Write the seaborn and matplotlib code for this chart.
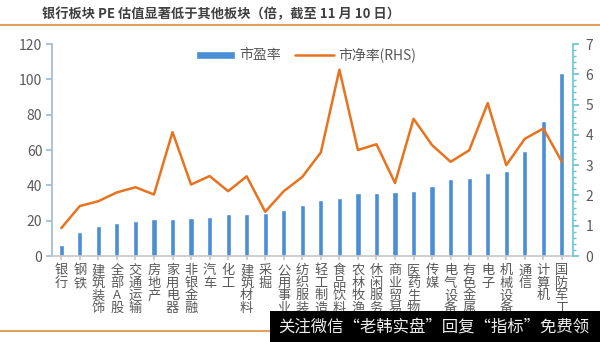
import numpy as np
import pandas as pd
import matplotlib
matplotlib.use("Agg")
import matplotlib.pyplot as plt
import seaborn as sns
from matplotlib.ticker import MultipleLocator
from matplotlib.lines import Line2D
from matplotlib.patches import Patch, Rectangle

sectors = ["银行", "钢铁", "建筑装饰", "全部A股", "交通运输", "房地产", "家用电器", "非银金融",
           "汽车", "化工", "建筑材料", "采掘", "公用事业", "纺织服装", "轻工制造", "食品饮料",
           "农林牧渔", "休闲服务", "商业贸易", "医药生物", "传媒", "电气设备", "有色金属",
           "电子", "机械设备", "通信", "计算机", "国防军工"]
pe = [6.2, 13.8, 17.0, 18.7, 19.6, 20.7, 21.0, 21.7, 21.9, 23.6, 24.0, 24.5, 25.8, 28.9,
      31.7, 32.6, 35.5, 35.7, 36.2, 37.0, 39.4, 43.6, 44.0, 47.2, 48.3, 59.6, 76.2, 103.7]
pb = [0.92, 1.65, 1.81, 2.10, 2.27, 2.03, 4.09, 2.36, 2.64, 2.14, 2.63, 1.46, 2.14, 2.61,
      3.42, 6.15, 3.50, 3.69, 2.41, 4.53, 3.66, 3.11, 3.49, 5.05, 3.00, 3.87, 4.21, 3.11]
title = "银行板块 PE 估值显著低于其他板块（倍，截至 11 月 10 日）"
watermark = "关注微信“老韩实盘”回复“指标”免费领"

sns.set_theme(style="white")
plt.rcParams['font.family'] = ['Noto Sans CJK SC', 'DejaVu Sans']

df = pd.DataFrame({"sector": sectors, "pe": pe, "pb": pb, "pos": np.arange(len(sectors))})

W, H = 600, 342
fig = plt.figure(figsize=(W / 100, H / 100), dpi=100)
ax = fig.add_axes([52 / W, 1 - 256 / H, (573 - 52) / W, (256 - 44) / H])

bar_c = "#4A8FD6"
line_c = "#E8731E"
txt_c = "#595959"

sns.barplot(data=df, x="sector", y="pe", color=bar_c, width=0.28, ax=ax, saturation=1)
ax.set_ylim(0, 120)
ax.set_xlim(-0.5, 27.6)
ax.yaxis.set_major_locator(MultipleLocator(20))
ax.set_xlabel("")
ax.set_ylabel("")

ax2 = ax.twinx()
sns.lineplot(data=df, x="pos", y="pb", color=line_c, linewidth=1.8, ax=ax2)
ax2.set_ylim(0, 7)
ax2.yaxis.set_major_locator(MultipleLocator(1))
ax2.yaxis.set_minor_locator(MultipleLocator(0.2))
ax2.set_xlabel("")
ax2.set_ylabel("")
ax2.set_xlim(-0.5, 27.6)

for a in (ax, ax2):
    a.spines["top"].set_visible(False)
ax.spines["right"].set_visible(False)
ax2.spines["left"].set_visible(False)
ax2.spines["bottom"].set_visible(False)
ax.spines["left"].set_color("#9DBBD6")
ax.spines["bottom"].set_color("#C8C8C8")
ax2.spines["right"].set_color("#6CC5D0")
ax2.spines["right"].set_linewidth(1.2)

ax.tick_params(axis="y", left=True, length=4, color="#9DBBD6", labelsize=10, labelcolor=txt_c, pad=3)
ax2.tick_params(axis="y", which="major", right=True, length=4, color="#6CC5D0", labelsize=10,
                labelcolor=txt_c, pad=5)
ax2.tick_params(axis="y", which="minor", right=True, length=2, color="#6CC5D0")

ax.set_xticks(np.arange(len(sectors)))
ax.set_xticklabels(["\n".join(s) for s in sectors], rotation=0, va="top", fontsize=9.5,
                   color=txt_c, linespacing=0.95)
ax.tick_params(axis="x", bottom=True, length=3, color="#C8C8C8", pad=3)

handles = [Patch(facecolor=bar_c, label="市盈率"),
           Line2D([0], [0], color=line_c, lw=1.8, label="市净率(RHS)")]
ax.legend(handles=handles, loc="center", bbox_to_anchor=(306 / W, 1 - 55 / H),
          bbox_transform=fig.transFigure, ncol=2, frameon=False, fontsize=10,
          labelcolor=txt_c, handlelength=2.8, handleheight=0.5, columnspacing=1.0,
          handletextpad=0.3)

fig.text(42 / W, 1 - 14 / H, title, fontsize=9.5, fontweight="bold", color="#404040",
         va="center", ha="left")
fig.add_artist(Line2D([0, 1], [1 - 25 / H, 1 - 25 / H], color="#E0A060", lw=1.5,
                      transform=fig.transFigure))
fig.add_artist(Line2D([0, 1], [1 - 331 / H, 1 - 331 / H], color="#E0A060", lw=1.5,
                      transform=fig.transFigure))
fig.add_artist(Rectangle((270 / W, 0), 330 / W, 31 / H, transform=fig.transFigure,
                         facecolor="black", edgecolor="none", zorder=10))
fig.text(434 / W, 15 / H, watermark, fontsize=11.8, color="#EEEEEE", ha="center",
         va="center", zorder=11)

fig.savefig("out.png", dpi=100)
